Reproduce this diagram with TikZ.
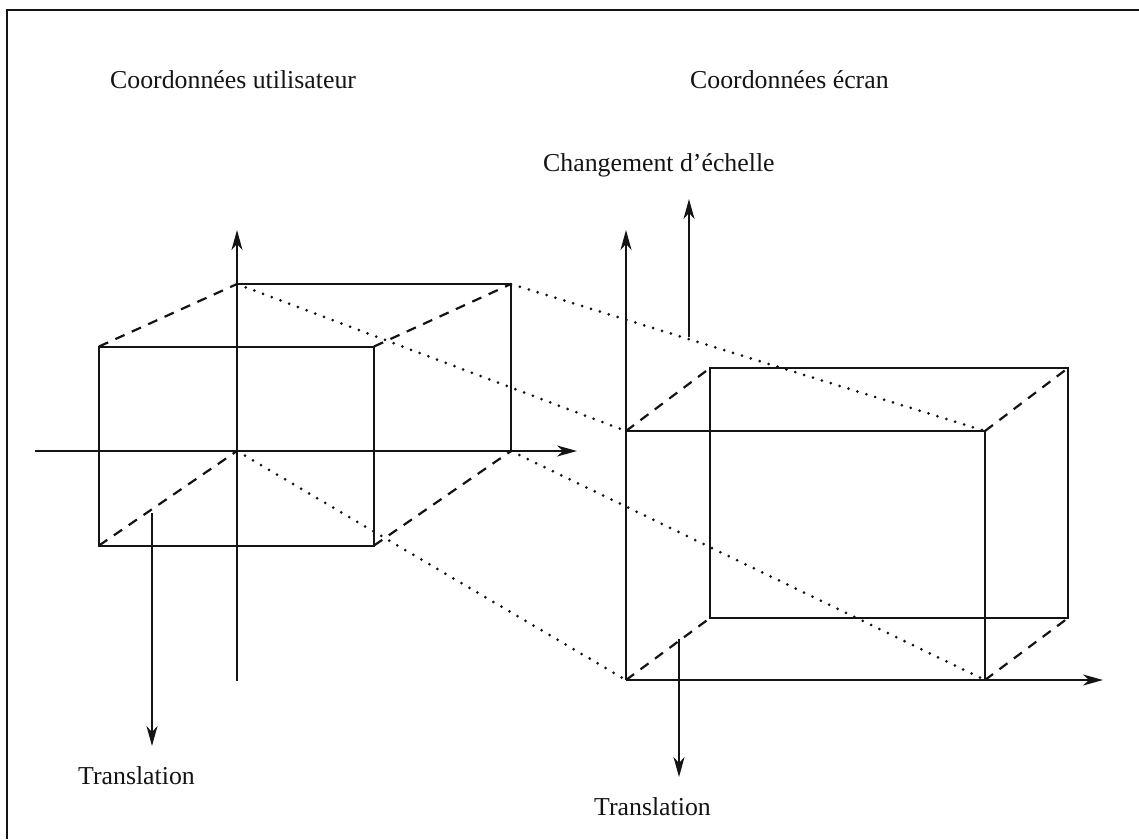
\documentclass[tikz,border=0pt]{standalone}
\usepackage{fontspec}
\setmainfont{Liberation Serif}
\usetikzlibrary{arrows.meta}
\tikzset{
  solidline/.style={line width=2pt,black!92},
  dashline/.style={line width=2.2pt,black!92,dash pattern=on 10pt off 8pt},
  dotline/.style={line width=3pt,black!92,line cap=round,dash pattern=on 0pt off 9.3pt},
  arrowline/.style={line width=1.9pt,black!92,-{Stealth[length=20pt,width=11pt,inset=6pt]}},
  lbl/.style={font=\fontsize{25.8pt}{30pt}\selectfont,text=black!92,inner sep=0pt,anchor=base west},
}
\begin{document}
\begin{tikzpicture}[x=1pt,y=-1pt]
\useasboundingbox (0,0) rectangle (1139,839);
\draw[line width=2.1pt,black!92] (7,839) -- (7,10) -- (1139,10);
% left
\coordinate (a1) at (99,346.5); \coordinate (a2) at (374,346.5);
\coordinate (a3) at (374,545.5); \coordinate (a4) at (99,545.5);
\coordinate (b1) at (237,284); \coordinate (b2) at (511,284);
\coordinate (b3) at (511,451); \coordinate (b4) at (237,451);
\draw[solidline] (a1) -- (a2) -- (a3) -- (a4) -- cycle;
\draw[solidline] (b1) -- (b2) -- (b3);
\draw[dashline] (a1) -- (b1) (a2) -- (b2) (a4) -- (b4) (a3) -- (b3);
% right
\coordinate (c1) at (626,431); \coordinate (c2) at (985,431);
\coordinate (c3) at (985,680); \coordinate (c4) at (626,680);
\coordinate (d1) at (710,368); \coordinate (d2) at (1068,368);
\coordinate (d3) at (1068,618); \coordinate (d4) at (710,618);
\draw[solidline] (c1) -- (c2) -- (c3);
\draw[solidline] (d1) -- (d2) -- (d3) -- (d4) -- cycle;
\draw[dashline] (c1) -- (d1) (c2) -- (d2) (c3) -- (d3) (c4) -- (d4);
% dotted
\draw[dotline] (b1) -- (c1) (b2) -- (c2) (b4) -- (c4) (b3) -- (c3);
% axes
\coordinate (ax1) at (35,451); \coordinate (ax2) at (577,451);
\coordinate (ay1) at (237,681); \coordinate (ay2) at (237,230);
\draw[arrowline] (ax1) -- (ax2);
\draw[arrowline] (ay1) -- (ay2);
\coordinate (rx2) at (1103,680); \coordinate (ry2) at (626,230);
\draw[arrowline] (c4) -- (rx2);
\draw[arrowline] (c4) -- (ry2);
% change of scale
\coordinate (s1) at (689,337); \coordinate (s2) at (689,199);
\draw[arrowline] (s1) -- (s2);
% translations
\coordinate (t1) at (152,513); \coordinate (t2) at (152,746);
\draw[arrowline] (t1) -- (t2);
\coordinate (t3) at (679,639); \coordinate (t4) at (679,777);
\draw[arrowline] (t3) -- (t4);
% labels
\node[lbl] (l1) at (110,88) {Coordonnées utilisateur};
\node[lbl] (l2) at (690,88) {Coordonnées écran};
\node[lbl] (l3) at (543,171) {Changement d’échelle};
\node[lbl] (l4) at (78,784) {Translation};
\node[lbl] (l5) at (594,815) {Translation};
\end{tikzpicture}
\end{document}
